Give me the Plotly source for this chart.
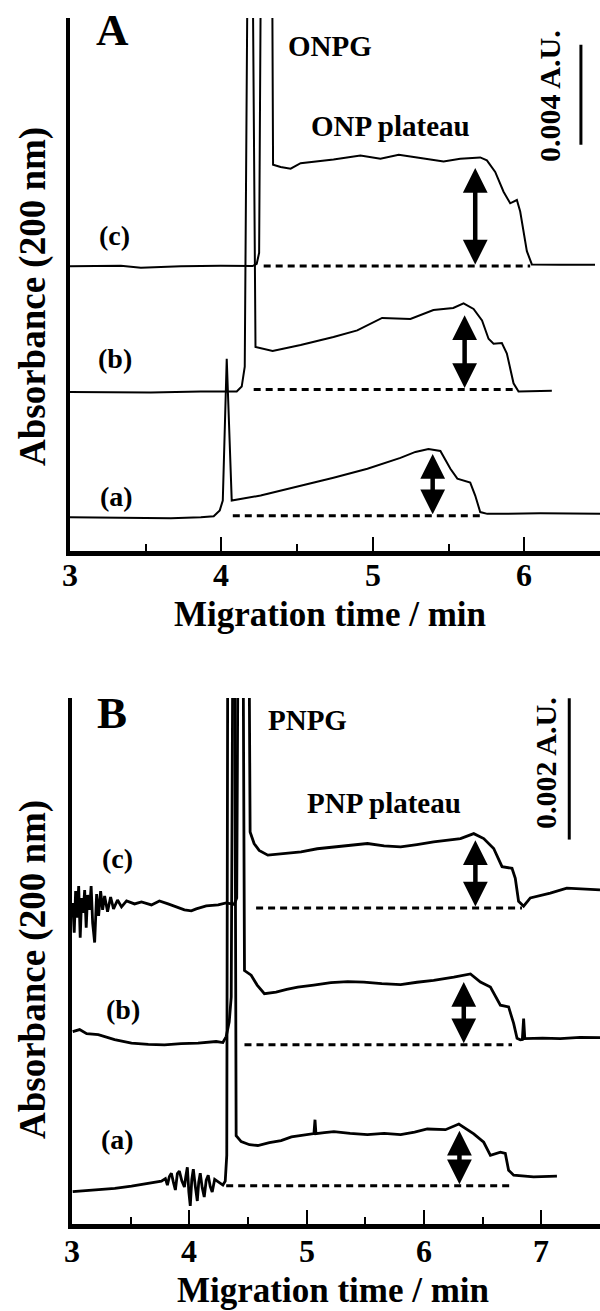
import plotly.graph_objects as go

W, H = 600, 1311
FONT = "Liberation Serif, Times New Roman, serif"

# ---------------- Panel A : ONPG runs (time / min, absorbance / mAU) ----------------
a_time_A = [3.000, 3.402, 3.666, 3.864, 3.949, 3.989, 4.009, 4.035, 4.068, 4.259, 4.523, 4.740,
            4.964, 5.182, 5.281, 5.367, 5.446, 5.512, 5.558, 5.643, 5.676, 5.709, 5.756, 6.105, 6.500]
a_abs_A = [1.228, 1.208, 1.188, 1.228, 1.267, 1.505, 1.901, 7.564, 1.901, 2.099, 2.475, 2.812,
           3.168, 3.604, 3.841, 3.960, 3.881, 3.168, 2.772, 2.614, 2.099, 1.437, 1.366, 1.386, 1.366]

b_time_A = [3.000, 3.534, 3.864, 4.101, 4.134, 4.154, 4.171, 4.208, 4.225, 4.338, 4.523, 4.740,
            4.897, 5.061, 5.248, 5.400, 5.531, 5.599, 5.665, 5.721, 5.764, 5.797, 5.852, 5.885,
            5.929, 5.962, 6.182]
b_abs_A = [6.237, 6.217, 6.257, 6.257, 6.455, 7.247, 22.0, 22.0, 8.039, 7.880, 8.118, 8.435,
           8.700, 9.199, 9.159, 9.516, 9.595, 9.781, 9.556, 9.096, 8.367, 8.169, 8.197, 7.773,
           6.585, 6.257, 6.284]

c_time_A = [3.000, 3.336, 3.468, 3.732, 3.995, 4.206, 4.233, 4.249, 4.259, 4.336, 4.341, 4.391,
            4.457, 4.523, 4.740, 4.918, 5.050, 5.171, 5.314, 5.467, 5.577, 5.709, 5.753, 5.808,
            5.863, 5.907, 5.951, 5.973, 6.017, 6.050, 6.237, 6.467]
c_abs_A = [11.266, 11.286, 11.207, 11.266, 11.286, 11.274, 11.365, 11.80, 22.0, 22.0, 15.325, 15.234,
           15.167, 15.385, 15.535, 15.693, 15.563, 15.721, 15.590, 15.456, 15.563, 15.614, 15.495, 15.036,
           14.244, 13.781, 13.911, 13.452, 11.868, 11.337, 11.326, 11.326]

# baseline under each plateau and the plateau height marked by the arrows, order (a), (b), (c)
dash_level_A = [1.287, 6.336, 11.274]
dash_start_A = [4.075, 4.213, 4.279]
dash_end_A = [5.709, 5.940, 6.039]
arrow_time_A = [5.395, 5.606, 5.676]
arrow_top_A = [3.762, 9.306, 15.195]

# ---------------- Panel B : PNPG runs ----------------
a_time_B = [3.006, 3.167, 3.365, 3.507, 3.649, 3.762, 3.796, 3.813, 3.830, 3.847, 3.864, 3.881,
            3.898, 3.915, 3.936, 3.958, 3.970, 3.983, 3.996, 4.008, 4.021, 4.034, 4.051, 4.068,
            4.080, 4.093, 4.110, 4.127, 4.144, 4.161, 4.178, 4.195, 4.216, 4.238, 4.262, 4.286,
            4.306, 4.319, 4.327, 4.387, 4.399, 4.442, 4.513, 4.584, 4.682, 4.782, 4.870, 4.952,
            5.062, 5.071, 5.079, 5.150, 5.232, 5.370, 5.518, 5.660, 5.801, 5.920, 6.028, 6.183,
            6.297, 6.424, 6.509, 6.566, 6.651, 6.693, 6.721, 6.764, 6.934, 7.133]
a_abs_B = [0.425, 0.448, 0.472, 0.505, 0.542, 0.575, 0.610, 0.519, 0.640, 0.687, 0.560, 0.449,
           0.680, 0.715, 0.580, 0.491, 0.640, 0.771, 0.420, 0.224, 0.600, 0.743, 0.500, 0.294,
           0.560, 0.687, 0.480, 0.350, 0.590, 0.659, 0.500, 0.420, 0.600, 0.575, 0.540, 0.519,
           0.575, 0.939, 8.000, 8.000, 1.219, 1.135, 1.090, 1.079, 1.120, 1.149, 1.200, 1.219,
           1.247, 1.444, 1.247, 1.260, 1.275, 1.250, 1.233, 1.250, 1.233, 1.270, 1.313, 1.303,
           1.383, 1.243, 1.125, 0.939, 0.985, 0.967, 0.729, 0.659, 0.635, 0.645]

b_time_B = [3.006, 3.065, 3.125, 3.224, 3.363, 3.507, 3.650, 3.788, 3.930, 4.074, 4.229, 4.286,
            4.314, 4.340, 4.357, 4.370, 4.459, 4.470, 4.527, 4.578, 4.640, 4.739, 4.830, 4.924,
            5.060, 5.206, 5.350, 5.487, 5.640, 5.801, 5.940, 6.082, 6.254, 6.396, 6.481, 6.566,
            6.651, 6.721, 6.764, 6.793, 6.821, 6.838, 6.849, 6.859, 7.010, 7.161, 7.330, 7.500]
b_abs_B = [2.691, 2.720, 2.663, 2.649, 2.579, 2.527, 2.510, 2.504, 2.520, 2.527, 2.551, 2.537,
           2.621, 2.831, 3.181, 8.000, 8.000, 3.556, 3.490, 3.350, 3.228, 3.251, 3.290, 3.322,
           3.350, 3.385, 3.400, 3.392, 3.370, 3.357, 3.390, 3.416, 3.462, 3.508, 3.392, 3.322,
           3.065, 3.041, 2.807, 2.597, 2.575, 2.579, 2.877, 2.593, 2.600, 2.593, 2.610, 2.607]

c_time_B = [3.006, 3.019, 3.031, 3.044, 3.057, 3.070, 3.082, 3.095, 3.108, 3.121, 3.133, 3.150,
            3.163, 3.176, 3.193, 3.210, 3.227, 3.244, 3.261, 3.278, 3.303, 3.329, 3.354, 3.388,
            3.422, 3.465, 3.533, 3.592, 3.677, 3.745, 3.819, 3.890, 3.958, 4.017, 4.059, 4.144,
            4.246, 4.314, 4.382, 4.404, 4.414, 4.510, 4.518, 4.552, 4.595, 4.669, 4.810, 4.952,
            5.090, 5.232, 5.370, 5.518, 5.660, 5.801, 5.940, 6.082, 6.311, 6.424, 6.509, 6.594,
            6.665, 6.750, 6.778, 6.806, 6.849, 6.906, 7.076, 7.217, 7.500]
c_abs_B = [4.513, 4.092, 4.681, 4.303, 4.751, 4.022, 4.583, 4.373, 4.695, 4.162, 4.625, 4.415,
           4.751, 4.232, 3.952, 4.639, 4.331, 4.681, 4.415, 4.611, 4.387, 4.597, 4.429, 4.555,
           4.457, 4.541, 4.499, 4.527, 4.485, 4.541, 4.499, 4.457, 4.415, 4.401, 4.429, 4.471,
           4.485, 4.513, 4.492, 4.583, 8.000, 8.000, 5.518, 5.354, 5.256, 5.190, 5.215, 5.237,
           5.280, 5.307, 5.330, 5.354, 5.320, 5.307, 5.340, 5.378, 5.424, 5.494, 5.424, 5.284,
           5.027, 5.003, 4.863, 4.537, 4.467, 4.583, 4.653, 4.723, 4.699]

dash_level_B = [0.509, 2.505, 4.443]
dash_start_B = [4.314, 4.470, 4.569]
dash_end_B = [6.750, 6.750, 6.835]
arrow_time_B = [6.302, 6.339, 6.438]
arrow_top_B = [1.289, 3.392, 5.400]

# axis tick labels
ticks_A = [3, 4, 5, 6]
ticks_B = [3, 4, 5, 6, 7]

# scale bars (mAU) and where they stand
scale_A = 4.0
scale_B = 2.0
scale_pos_A = (6.374, 16.117)
scale_pos_B = (7.238, 5.410)

run_labels = ["(a)", "(b)", "(c)"]


def py(y):
    """pixel row -> paper y"""
    return 1 - y / H


fig = go.Figure()

panels = [
    dict(xa="x", ya="y", lw=2.0,
         runs=[(a_time_A, a_abs_A), (b_time_A, b_abs_A), (c_time_A, c_abs_A)],
         lvl=dash_level_A, d0=dash_start_A, d1=dash_end_A, at=arrow_time_A, atop=arrow_top_A,
         scale=scale_A, spos=scale_pos_A, ticks=ticks_A, tick_row=575),
    dict(xa="x2", ya="y2", lw=2.8,
         runs=[(a_time_B, a_abs_B), (b_time_B, b_abs_B), (c_time_B, c_abs_B)],
         lvl=dash_level_B, d0=dash_start_B, d1=dash_end_B, at=arrow_time_B, atop=arrow_top_B,
         scale=scale_B, spos=scale_pos_B, ticks=ticks_B, tick_row=1251),
]

annotations = []


def bold(size):
    return dict(family=FONT, size=size, color="black", weight="bold")


for p in panels:
    for (t, v), name in zip(p["runs"], run_labels):
        fig.add_trace(go.Scatter(x=t, y=v, mode="lines", name=name, showlegend=False,
                                 line=dict(color="black", width=p["lw"]),
                                 xaxis=p["xa"], yaxis=p["ya"], hoverinfo="skip"))
    for lv, s, e in zip(p["lvl"], p["d0"], p["d1"]):
        fig.add_trace(go.Scatter(x=[s, e], y=[lv, lv], mode="lines", showlegend=False,
                                 line=dict(color="black", width=3, dash="7px,5px"),
                                 xaxis=p["xa"], yaxis=p["ya"], hoverinfo="skip"))
    for t, lv, top in zip(p["at"], p["lvl"], p["atop"]):
        annotations.append(dict(x=t, y=top, ax=t, ay=lv, xref=p["xa"], yref=p["ya"],
                                axref=p["xa"], ayref=p["ya"], text="", showarrow=True,
                                arrowhead=2, startarrowhead=2, arrowside="end+start",
                                arrowwidth=4.5, arrowsize=1.1, startarrowsize=1.1,
                                standoff=0, startstandoff=0, arrowcolor="black"))
    sx, sy = p["spos"]
    fig.add_trace(go.Scatter(x=[sx, sx], y=[sy, sy + p["scale"]], mode="lines", showlegend=False,
                             line=dict(color="black", width=3),
                             xaxis=p["xa"], yaxis=p["ya"], hoverinfo="skip"))
    # bold tick numbers under the time axis
    for tv in p["ticks"]:
        annotations.append(dict(text="<b>%d</b>" % tv, x=tv, y=py(p["tick_row"]),
                                xref=p["xa"], yref="paper", showarrow=False,
                                xanchor="center", yanchor="middle", font=bold(32)))


def label(text, x, y, size, angle=0):
    annotations.append(dict(text="<b>" + text + "</b>", x=x / W, y=py(y), xref="paper",
                            yref="paper", showarrow=False, xanchor="center", yanchor="middle",
                            textangle=angle, font=bold(size)))


label("A", 112, 30, 45)
label("ONPG", 330, 46, 29)
label("ONP plateau", 391, 126, 29)
label("(c)", 114, 236, 28)
label("(b)", 115, 358, 28)
label("(a)", 116, 496, 28)
label("0.004 A.U.", 550, 96, 30, -90)
label("Migration time / min", 330, 614, 35)
label("Absorbance (200 nm)", 33, 297, 37, -90)

label("B", 112, 713, 45)
label("PNPG", 307, 720, 29)
label("PNP plateau", 384, 803, 29)
label("(c)", 117, 858, 28)
label("(b)", 123, 1009, 28)
label("(a)", 117, 1139, 28)
label("0.002 A.U.", 545, 763, 30, -90)
label("Migration time / min", 333, 1290, 35)
label("Absorbance (200 nm)", 33, 970, 37, -90)

kA = 4.0 / 101.0
kB = 2.0 / 142.7


def xaxis(domain, rng, anchor, ticks):
    return dict(domain=domain, range=rng, anchor=anchor, showgrid=False, zeroline=False,
                showline=True, linecolor="black", linewidth=5,
                ticks="inside", ticklen=14, tickwidth=2, tickcolor="black",
                tickvals=ticks, showticklabels=False,
                minor=dict(ticks="inside", ticklen=7, tickwidth=2, tickcolor="black", dtick=0.5,
                           tick0=3),
                fixedrange=True)


def yaxis(domain, rng, anchor):
    return dict(domain=domain, range=rng, anchor=anchor, showgrid=False, zeroline=False,
                showline=True, linecolor="black", linewidth=4, ticks="", showticklabels=False,
                fixedrange=True)


fig.update_layout(
    width=W, height=H, margin=dict(l=0, r=0, t=0, b=0),
    paper_bgcolor="white", plot_bgcolor="white", showlegend=False,
    xaxis=xaxis([70 / W, 1.0], [3, 6.5], "y", ticks_A),
    yaxis=yaxis([1 - 550.5 / H, 1 - 18 / H], [-2.5 * kA, 535 * kA], "x"),
    xaxis2=xaxis([72 / W, 1.0], [3, 7.5], "y2", ticks_B),
    yaxis2=yaxis([1 - 1224.2 / H, 1 - 698 / H], [-2.5 * kB, 529 * kB], "x2"),
    annotations=annotations,
)

fig.write_html("out.html")
